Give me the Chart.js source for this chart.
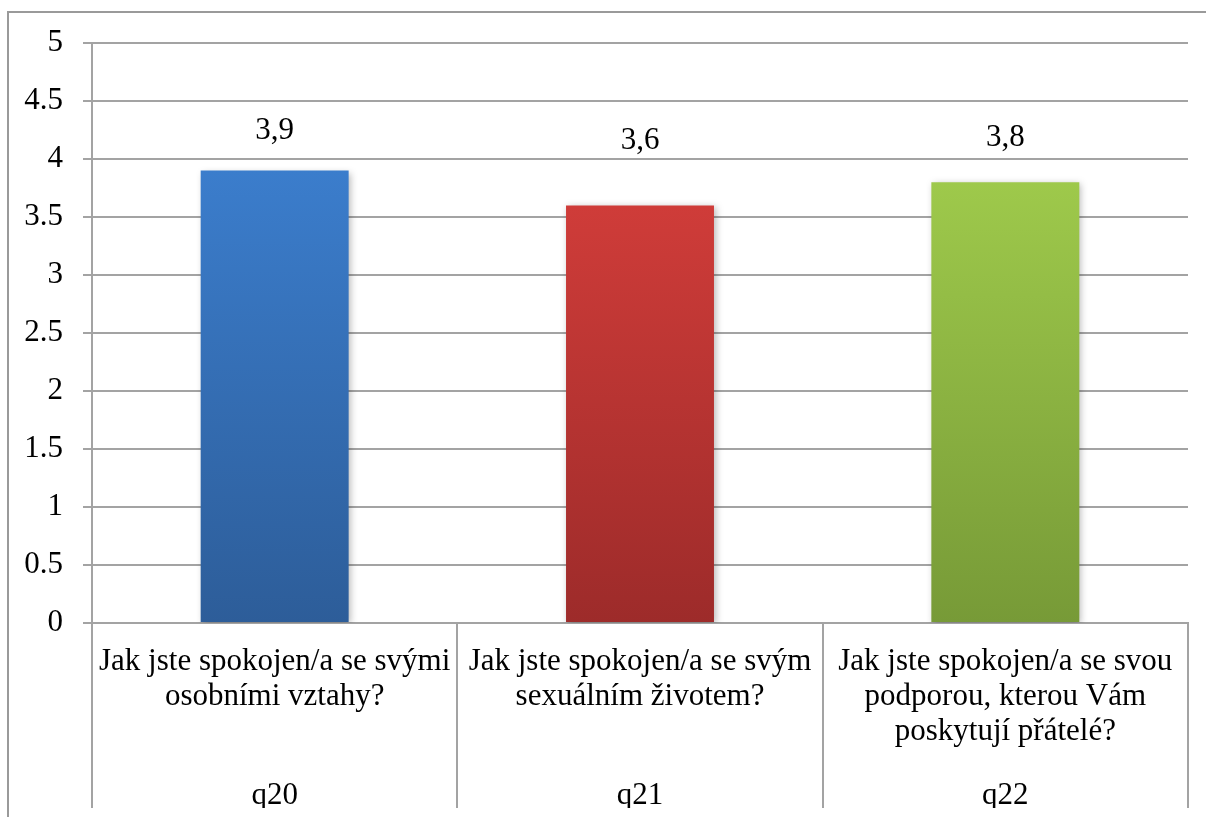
<!DOCTYPE html>
<html>
<head>
<meta charset="utf-8">
<script src="https://cdn.jsdelivr.net/npm/chart.js@4"></script>
<style>
  html, body { margin: 0; padding: 0; background: #fff; }
  #wrap { width: 1206px; height: 817px; }
</style>
</head>
<body>
<div id="wrap"><canvas id="satisfactionChart" width="1206" height="817"></canvas></div>
<script>
// data
const questions = [
    ['Jak jste spokojen/a se svými', 'osobními vztahy?'],
    ['Jak jste spokojen/a se svým', 'sexuálním životem?'],
    ['Jak jste spokojen/a se svou', 'podporou, kterou Vám', 'poskytují přátelé?']
];
const codes = ['q20', 'q21', 'q22'];
const values = [3.9, 3.6, 3.8];
const yTicks = [0, 0.5, 1, 1.5, 2, 2.5, 3, 3.5, 4, 4.5, 5];

const topColors = ['#3b7dcc', '#cf3c39', '#9ec94b'];
const bottomColors = ['#2d5d99', '#9d2b2a', '#779a37'];
// value labels sit at uneven heights in the original (px above bar top)
const labelLift = [40, 65, 44];

const FONT = "'Liberation Serif', 'Times New Roman', serif";
const FONT_SIZE = 31;
const GRID = '#a3a3a3';

function barGradient(context) {
    const chart = context.chart;
    const area = chart.chartArea;
    if (!area) return topColors[context.dataIndex];
    const yScale = chart.scales.y;
    const top = yScale.getPixelForValue(values[context.dataIndex]);
    const bottom = yScale.getPixelForValue(0);
    const g = chart.ctx.createLinearGradient(0, top, 0, bottom);
    g.addColorStop(0, topColors[context.dataIndex]);
    g.addColorStop(1, bottomColors[context.dataIndex]);
    return g;
}

// outer frame like the Excel chart area
const framePlugin = {
    id: 'frame',
    beforeDraw(chart) {
        const c = chart.ctx;
        c.save();
        c.strokeStyle = '#9a9a9a';
        c.lineWidth = 2;
        c.beginPath();
        c.moveTo(8, chart.height);
        c.lineTo(8, 12);
        c.lineTo(chart.width, 12);
        c.stroke();
        c.restore();
    }
};

// soft shadow under bars
const shadowPlugin = {
    id: 'barShadow',
    beforeDatasetsDraw(chart) {
        const c = chart.ctx;
        c.save();
        c.shadowColor = 'rgba(0,0,0,0.28)';
        c.shadowBlur = 7;
        c.shadowOffsetX = 2;
        c.shadowOffsetY = 2;
    },
    afterDatasetsDraw(chart) {
        chart.ctx.restore();
    }
};

// value labels with comma decimals
const valueLabels = {
    id: 'valueLabels',
    afterDatasetsDraw(chart) {
        const c = chart.ctx;
        const meta = chart.getDatasetMeta(0);
        c.save();
        c.font = FONT_SIZE + 'px ' + FONT;
        c.fillStyle = '#000';
        c.textAlign = 'center';
        c.textBaseline = 'middle';
        meta.data.forEach((bar, i) => {
            c.fillText(values[i].toFixed(1).replace('.', ','), bar.x, bar.y - labelLift[i]);
        });
        c.restore();
    }
};

const ctx = document.getElementById('satisfactionChart').getContext('2d');
const satisfactionChart = new Chart(ctx, {
    type: 'bar',
    data: {
        labels: questions,
        datasets: [{
            data: values,
            backgroundColor: barGradient,
            borderWidth: 0,
            categoryPercentage: 1,
            barPercentage: 0.405
        }]
    },
    options: {
        responsive: false,
        animation: false,
        layout: {
            padding: { top: 43, right: 18, bottom: 9, left: 0 }
        },
        scales: {
            x: {
                position: 'bottom',
                grid: {
                    offset: true,
                    drawOnChartArea: false,
                    color: GRID,
                    lineWidth: 2,
                    tickLength: 129,
                    tickColor: GRID
                },
                border: { display: true, color: GRID, width: 2 },
                ticks: {
                    font: { family: FONT, size: FONT_SIZE, lineHeight: 35 / FONT_SIZE },
                    color: '#000',
                    padding: -108,
                    maxRotation: 0,
                    autoSkip: false
                },
                afterFit(scale) { scale.height = 129; }
            },
            x2: {
                position: 'bottom',
                type: 'category',
                labels: codes,
                grid: {
                    offset: true,
                    drawOnChartArea: false,
                    color: GRID,
                    lineWidth: 2,
                    tickLength: 56,
                    tickColor: GRID
                },
                border: { display: false },
                ticks: {
                    font: { family: FONT, size: FONT_SIZE, lineHeight: 35 / FONT_SIZE },
                    color: '#000',
                    padding: -30,
                    maxRotation: 0,
                    autoSkip: false
                },
                afterFit(scale) { scale.height = 56; }
            },
            y: {
                min: 0,
                max: 5,
                afterBuildTicks(scale) {
                    scale.ticks = yTicks.map(v => ({ value: v }));
                },
                grid: {
                    color: GRID,
                    lineWidth: 2,
                    tickLength: 9,
                    tickColor: GRID
                },
                border: { display: true, color: GRID, width: 2 },
                ticks: {
                    font: { family: FONT, size: FONT_SIZE },
                    color: '#000',
                    padding: 20,
                    callback: v => String(v)
                },
                afterFit(scale) { scale.width = 92; }
            }
        },
        plugins: {
            legend: { display: false },
            tooltip: { enabled: false }
        }
    },
    plugins: [framePlugin, shadowPlugin, valueLabels]
});
</script>
</body>
</html>
